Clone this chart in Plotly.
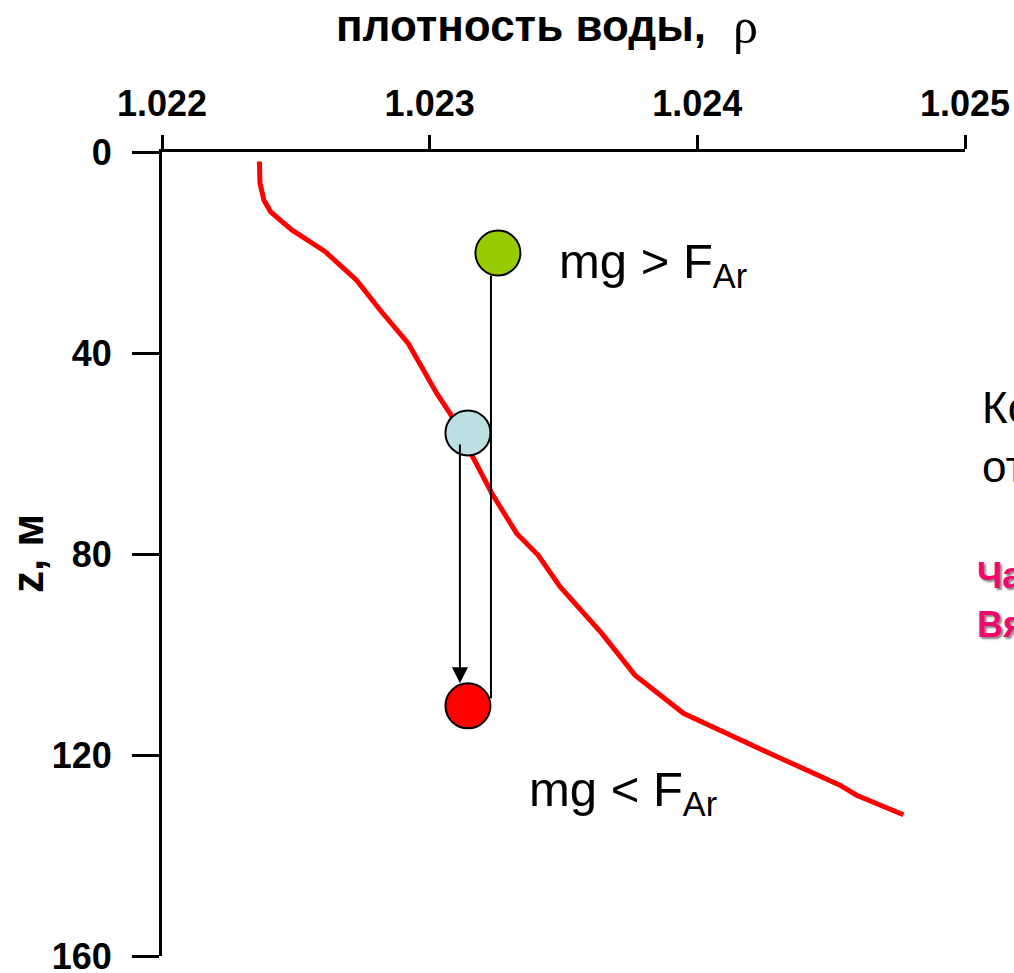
import plotly.graph_objects as go

# Density profile (red curve)
rho = [1.022364, 1.022366, 1.022381, 1.022406, 1.022485, 1.022609, 1.022727,
       1.022814, 1.022920, 1.023026, 1.023076, 1.023163, 1.023232, 1.023325,
       1.023405, 1.023487, 1.023643, 1.023767, 1.023948, 1.024284, 1.024533,
       1.024595, 1.024770]
depth = [1.9, 6.2, 9.6, 11.9, 15.5, 19.8, 25.5, 31.4, 38.1, 48.0, 52.0, 60.6,
         67.9, 75.9, 80.2, 86.5, 95.8, 104.1, 111.7, 120.0, 126.0, 128.0, 131.9]

# Particle positions
part_rho = [1.023255, 1.023143, 1.023143]
part_z = [20.1, 55.9, 110.2]
part_colors = ["#99CC00", "#BBE0E3", "#FF0000"]

# Displacement paths (x, z_start, z_end)
path_down = (1.023113, 57.9, 105.7)
path_up = (1.023229, 109.0, 24.6)

x_ticks = [1.022, 1.023, 1.024, 1.025]
x_ticktext = ["1.022", "1.023", "1.024", "1.025"]
y_ticks = [0, 40, 80, 120, 160]
y_ticktext = ["0", "40", "80", "120", "160"]

FONT = "Liberation Sans, Arial, sans-serif"

W, H = 1014, 973
L, R, T, B = 162, W - 965, 152, H - 956
pw, ph = W - L - R, H - T - B


def px2paper(X, Y):
    return (X - L) / pw, 1 - (Y - T) / ph


fig = go.Figure()
fig.add_trace(go.Scatter(x=rho, y=depth, mode="lines",
                         line=dict(color="#FF0000", width=5), hoverinfo="skip"))
fig.add_trace(go.Scatter(x=part_rho, y=part_z, mode="markers",
                         marker=dict(size=45, color=part_colors,
                                     line=dict(color="black", width=2)),
                         hoverinfo="skip"))

ann = []
ann.append(dict(x=path_down[0], y=path_down[2], ax=path_down[0], ay=path_down[1],
                xref="x", yref="y", axref="x", ayref="y", text="", showarrow=True,
                arrowhead=2, arrowsize=1.6, arrowwidth=2, arrowcolor="black"))
ann.append(dict(x=path_up[0], y=path_up[2], ax=path_up[0], ay=path_up[1],
                xref="x", yref="y", axref="x", ayref="y", text="", showarrow=True,
                arrowhead=0, arrowwidth=2, arrowcolor="black"))


def txt(X, Y, text, size, color="black", family=FONT, weight="normal", xanchor="center",
        angle=0, shadow=None):
    x, y = px2paper(X, Y)
    f = dict(family=family, size=size, color=color, weight=weight)
    if shadow:
        f["shadow"] = shadow
    ann.append(dict(x=x, y=y, xref="paper", yref="paper", text=text, showarrow=False,
                    xanchor=xanchor, yanchor="middle", textangle=angle, font=f))


txt(557, 264, "mg &gt; F<sub>Ar</sub>", 49, xanchor="left")
txt(527, 792, "mg &lt; F<sub>Ar</sub>", 49, xanchor="left")
txt(521, 26, "плотность воды,", 44, weight="bold")
txt(745, 26, "ρ", 50, family="Liberation Serif, DejaVu Serif, serif")
txt(27, 554, "z, м", 44, weight="bold", angle=-90)
txt(980, 407, "Колебания частицы", 44, xanchor="left")
txt(980, 466, "относительно равновесия", 44, xanchor="left")
txt(975, 575, "Частота", 36, color="#F0086C", weight="bold", xanchor="left",
    shadow="2px 2px 2px #888")
txt(975, 624, "Вяйсяля-Брента", 36, color="#F0086C", weight="bold", xanchor="left",
    shadow="2px 2px 2px #888")

fig.update_layout(annotations=ann)

fig.update_layout(
    width=W, height=H,
    margin=dict(l=L, r=R, t=T, b=B, pad=0),
    plot_bgcolor="white", paper_bgcolor="white",
    showlegend=False,
    xaxis=dict(range=[1.022, 1.025], side="top", tickvals=x_ticks, ticktext=x_ticktext,
               ticks="outside", ticklen=14, tickwidth=3, tickcolor="black",
               showline=True, linewidth=3, linecolor="black",
               showgrid=False, zeroline=False, automargin=False,
               ticklabelstandoff=5, ticklabeloverflow="allow",
               tickfont=dict(family=FONT, size=36, color="black", weight="bold")),
    yaxis=dict(range=[160, 0], tickvals=y_ticks, ticktext=y_ticktext,
               ticks="outside", ticklen=27, tickwidth=3, tickcolor="black",
               showline=True, linewidth=3, linecolor="black",
               showgrid=False, zeroline=False, automargin=False,
               ticklabelstandoff=13, ticklabeloverflow="allow",
               tickfont=dict(family=FONT, size=36, color="black", weight="bold")),
)

fig.write_html("out.html",
               config={"displayModeBar": False},
               post_script="document.body.style.margin='0px';"
                           "document.body.style.overflow='hidden';")
